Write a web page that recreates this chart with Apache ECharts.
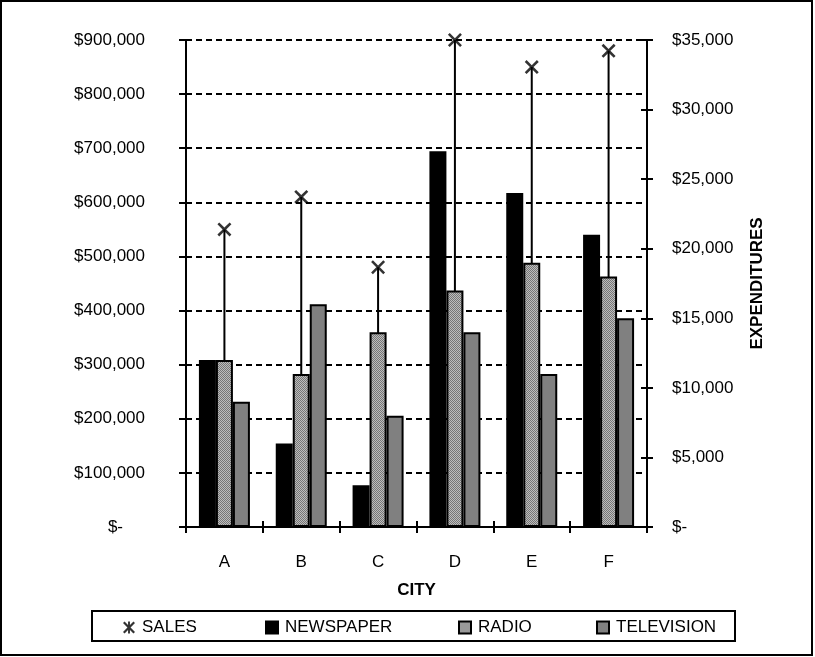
<!DOCTYPE html>
<html>
<head>
<meta charset="utf-8">
<script src="https://cdn.jsdelivr.net/npm/echarts@6/dist/echarts.min.js"></script>
<style>
  html, body { margin: 0; padding: 0; background: #fff; }
  #chart { width: 815px; height: 657px; }
</style>
</head>
<body>
<div id="chart"></div>
<script>
// Sales and advertising expenditures by city
const cities = ['A', 'B', 'C', 'D', 'E', 'F'];
const sales = [550000, 610000, 480000, 900000, 850000, 880000];
const newspaper = [12000, 6000, 3000, 27000, 24000, 21000];
const radio = [12000, 11000, 14000, 17000, 19000, 18000];
const television = [9000, 16000, 8000, 14000, 11000, 15000];

const FONT = '"Liberation Sans", Arial, sans-serif';

// speckled fill for the radio bars
function speckle() {
  const c = document.createElement('canvas');
  c.width = 2; c.height = 2;
  const g = c.getContext('2d');
  g.fillStyle = '#bdbdbd'; g.fillRect(0, 0, 2, 2);
  g.fillStyle = '#767676'; g.fillRect(0, 0, 1, 1); g.fillRect(1, 1, 1, 1);
  return { image: c, repeat: 'repeat' };
}

const X_PATH = 'path://M0 13L13 0L50 37L87 0L100 13L63 50L100 87L87 100L50 63L13 100L0 87L37 50Z';
const X_LINE_PATH = 'path://M0 13L13 0L42 29L42 0L58 0L58 29L87 0L100 13L63 50L100 87L87 100L58 71L58 100L42 100L42 71L13 100L0 87L37 50Z';

function money(v) {
  return '$' + Math.round(v).toLocaleString('en-US');
}

const chart = echarts.init(document.getElementById('chart'), null, { renderer: 'canvas' });

const legendBase = {
  top: 619, itemWidth: 12, itemHeight: 12, itemGap: 0, padding: 0,
  selectedMode: false,
  textStyle: { fontFamily: FONT, fontSize: 17, color: '#000', padding: [0, 0, 0, 2] }
};

chart.setOption({
  animation: false,
  backgroundColor: '#fff',
  textStyle: { fontFamily: FONT, color: '#000' },
  grid: { left: 186, right: 168, top: 40, bottom: 130, containLabel: false },
  graphic: [
    { type: 'rect', shape: { x: 1, y: 1, width: 811, height: 654 },
      style: { fill: 'none', stroke: '#000', lineWidth: 2 }, silent: true, z: -1 },
    { type: 'rect', shape: { x: 92, y: 611, width: 643, height: 30 },
      style: { fill: 'none', stroke: '#000', lineWidth: 2 }, silent: true, z: -1 }
  ],
  legend: [
    Object.assign({}, legendBase, { left: 123, data: [{ name: 'SALES', icon: X_LINE_PATH }] }),
    Object.assign({}, legendBase, { left: 265, data: [{ name: 'NEWSPAPER', icon: 'rect' }] }),
    Object.assign({}, legendBase, { left: 458, data: [{ name: 'RADIO', icon: 'rect' }] }),
    Object.assign({}, legendBase, { left: 596, data: [{ name: 'TELEVISION', icon: 'rect' }] })
  ],
  xAxis: [
    {
      type: 'category', data: cities, position: 'bottom',
      name: 'CITY', nameLocation: 'middle', nameGap: 55,
      nameTextStyle: { fontFamily: FONT, fontSize: 17, fontWeight: 'bold', color: '#000' },
      axisLine: { show: true, lineStyle: { color: '#000', width: 2 } },
      axisTick: { show: true, alignWithLabel: false, length: 6, lineStyle: { color: '#000', width: 2 } },
      axisLabel: { fontFamily: FONT, fontSize: 17, color: '#000', margin: 27 },
      splitLine: { show: false }
    },
    {
      type: 'category', data: cities, position: 'bottom',
      axisLine: { show: false },
      axisTick: { show: true, inside: true, alignWithLabel: false, length: 6, lineStyle: { color: '#000', width: 2 } },
      axisLabel: { show: false },
      splitLine: { show: false }
    }
  ],
  yAxis: [
    {
      type: 'value', position: 'left', min: 0, max: 900000, interval: 100000,
      axisLine: { show: true, lineStyle: { color: '#000', width: 2 } },
      axisTick: { show: true, length: 7, lineStyle: { color: '#000', width: 2 } },
      axisLabel: {
        fontFamily: FONT, fontSize: 17, color: '#000', margin: 41,
        formatter: v => v === 0 ? '{z|$-}' : money(v),
        rich: { z: { fontFamily: FONT, fontSize: 17, color: '#000', padding: [0, 22, 0, 0] } }
      },
      splitLine: { show: true, lineStyle: { color: '#000', width: 2, type: [6, 4] } }
    },
    {
      type: 'value', position: 'right', min: 0, max: 35000, interval: 5000,
      name: 'EXPENDITURES', nameLocation: 'middle', nameGap: 102, nameRotate: 90,
      nameTextStyle: { fontFamily: FONT, fontSize: 17, fontWeight: 'bold', color: '#000' },
      axisLine: { show: true, lineStyle: { color: '#000', width: 2 } },
      axisTick: { show: true, length: 6, lineStyle: { color: '#000', width: 2 } },
      axisLabel: {
        fontFamily: FONT, fontSize: 17, color: '#000', margin: 25,
        formatter: v => v === 0 ? '$-' : money(v)
      },
      splitLine: { show: false }
    },
    {
      type: 'value', position: 'right', min: 0, max: 35000, interval: 5000,
      axisLine: { show: false },
      axisTick: { show: true, inside: true, length: 6, lineStyle: { color: '#000', width: 2 } },
      axisLabel: { show: false },
      splitLine: { show: false }
    }
  ],
  series: [
    {
      // drop line from each sales marker to the axis
      name: 'SALES_DROP', type: 'bar', xAxisIndex: 1, yAxisIndex: 0,
      data: sales, barWidth: 2, itemStyle: { color: '#000' }, silent: true
    },
    {
      name: 'NEWSPAPER', type: 'bar', xAxisIndex: 0, yAxisIndex: 1,
      data: newspaper, barWidth: 17, barGap: '0%',
      itemStyle: { color: '#000', borderColor: '#000', borderWidth: 2 }
    },
    {
      name: 'RADIO', type: 'bar', xAxisIndex: 0, yAxisIndex: 1,
      data: radio, barWidth: 17, barGap: '0%',
      itemStyle: { color: speckle(), borderColor: '#000', borderWidth: 2 }
    },
    {
      name: 'TELEVISION', type: 'bar', xAxisIndex: 0, yAxisIndex: 1,
      data: television, barWidth: 17, barGap: '0%',
      itemStyle: { color: '#808080', borderColor: '#000', borderWidth: 2 }
    },
    {
      name: 'SALES', type: 'scatter', xAxisIndex: 0, yAxisIndex: 0,
      data: sales, symbol: X_PATH, symbolSize: 14,
      itemStyle: { color: '#000' }, z: 5
    }
  ]
});
</script>
</body>
</html>
